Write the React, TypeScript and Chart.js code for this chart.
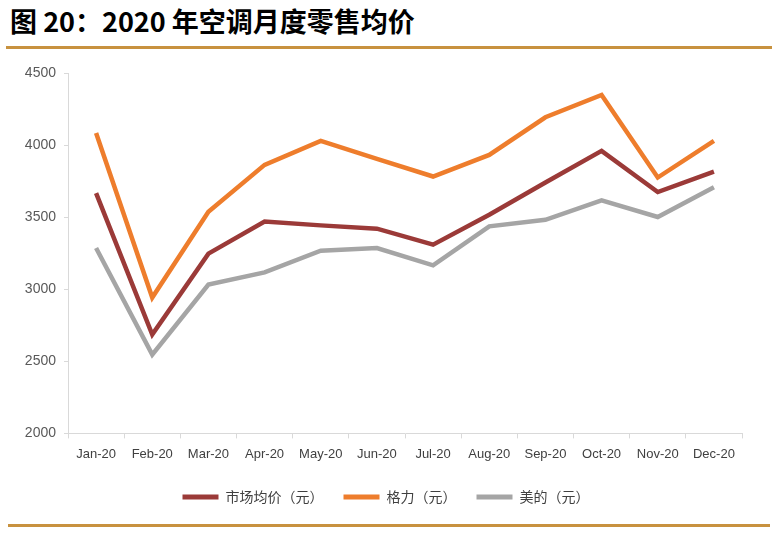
import React, { useEffect, useRef } from "react";
import { Chart, registerables } from "chart.js";

Chart.register(...registerables);

const months = ["Jan-20", "Feb-20", "Mar-20", "Apr-20", "May-20", "Jun-20", "Jul-20", "Aug-20", "Sep-20", "Oct-20", "Nov-20", "Dec-20"];
const marketAvg = [3667, 2686, 3247, 3470, 3443, 3420, 3309, 3517, 3740, 3960, 3674, 3816];
const gree = [4084, 2942, 3537, 3863, 4029, 3905, 3782, 3932, 4193, 4348, 3775, 4029];
const midea = [3286, 2547, 3032, 3117, 3267, 3286, 3166, 3436, 3482, 3616, 3501, 3708];
const seriesNames = ["市场均价（元）", "格力（元）", "美的（元）"];
const seriesColors = ["#9B3A38", "#EE7D2C", "#A5A5A5"];

const sans = "'Liberation Sans', Arial, sans-serif";

const shiftLegend = {
  id: "shiftLegend",
  afterLayout(chart: any) {
    const l = chart.legend;
    if (l) {
      l.left += 15;
      l.right += 15;
    }
  },
};

export default function App() {
  const ref = useRef<HTMLCanvasElement | null>(null);
  useEffect(() => {
    if (!ref.current) return;
    const data = [marketAvg, gree, midea];
    const chart = new Chart(ref.current, {
      type: "line",
      data: {
        labels: months,
        datasets: seriesNames.map((n, i) => ({
          label: n,
          data: data[i],
          borderColor: seriesColors[i],
          backgroundColor: seriesColors[i],
          borderWidth: 4.5,
          pointRadius: 0,
          tension: 0,
          fill: false,
        })),
      },
      plugins: [shiftLegend],
      options: {
        responsive: false,
        animation: false,
        layout: { padding: { top: 18, right: 35, left: 0, bottom: 11 } },
        plugins: {
          title: { display: false },
          tooltip: { enabled: false },
          legend: {
            position: "bottom",
            labels: {
              boxWidth: 36,
              boxHeight: 5,
              padding: 20,
              color: "#404040",
              font: { family: "'Noto Sans CJK SC', sans-serif", size: 14 },
              generateLabels: (c: any) =>
                Chart.defaults.plugins.legend.labels.generateLabels(c).map((l: any) => ({ ...l, lineWidth: 0 })),
            },
          },
        },
        scales: {
          x: {
            offset: true,
            grid: { display: true, drawOnChartArea: false, offset: true, tickLength: 5, color: "#D9D9D9" },
            border: { color: "#D9D9D9", width: 1 },
            ticks: { color: "#404040", font: { family: sans, size: 13 }, padding: 8, maxRotation: 0, autoSkip: false },
          },
          y: {
            min: 2000,
            max: 4500,
            ticks: {
              stepSize: 500,
              color: "#595959",
              font: { family: sans, size: 14 },
              padding: 8,
              callback: (v: any) => String(v),
            },
            grid: { display: true, drawOnChartArea: false, tickLength: 4, color: "#D9D9D9" },
            border: { color: "#D9D9D9", width: 1 },
            afterFit: (s: any) => {
              s.width = 68;
            },
          },
        },
      },
    });
    return () => chart.destroy();
  }, []);

  return (
    <div style={{ position: "absolute", left: 0, top: 0, width: 777, height: 541, background: "#fff", overflow: "hidden" }}>
      <div
        style={{
          position: "absolute",
          left: 10,
          top: 2,
          fontFamily: "'Noto Sans CJK SC', sans-serif",
          fontWeight: 700,
          fontSize: 27,
          lineHeight: "38px",
          color: "#000",
          whiteSpace: "nowrap",
        }}
      >
        图 20：2020 年空调月度零售均价
      </div>
      <div style={{ position: "absolute", left: 6, top: 46, width: 766, height: 3, background: "#C8923F" }} />
      <canvas ref={ref} width={777} height={470} style={{ position: "absolute", left: 0, top: 55, width: 777, height: 470 }} />
      <div style={{ position: "absolute", left: 8, top: 524, width: 762, height: 3, background: "#C8923F" }} />
    </div>
  );
}
